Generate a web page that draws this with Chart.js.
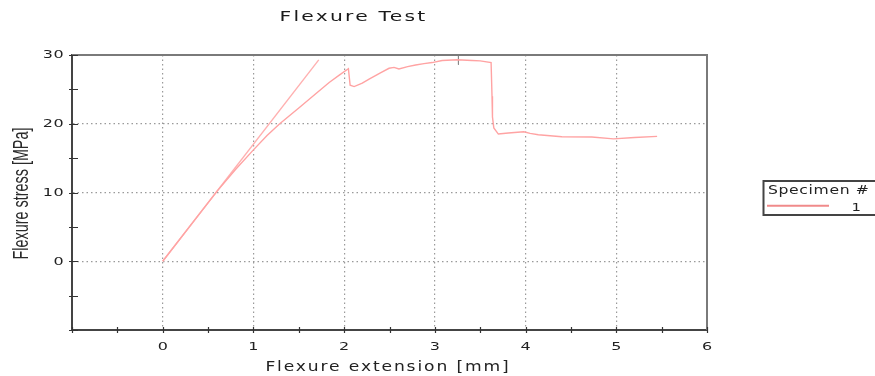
<!DOCTYPE html>
<html>
<head>
<meta charset="utf-8">
<script src="https://cdn.jsdelivr.net/npm/chart.js@4.4.0/dist/chart.umd.min.js"></script>
<style>
  html, body { margin: 0; padding: 0; background: #fff; }
  #wrap { width: 875px; height: 376px; position: relative; }
</style>
</head>
<body>
<div id="wrap"><canvas id="grafico-Flexion"></canvas></div>
<script>
// Datos (extensión en mm, esfuerzo en MPa)
const extension = [0, 0.3, 0.6, 0.8, 1.0, 1.15, 1.29, 1.5, 1.7, 1.835, 1.95, 2.047, 2.066, 2.11, 2.2, 2.275, 2.4, 2.495, 2.55, 2.604, 2.7, 2.788, 2.88, 2.97, 3.08, 3.245, 3.41, 3.5, 3.62, 3.63, 3.635, 3.65, 3.70, 3.81, 3.98, 4.05, 4.14, 4.4, 4.73, 4.97, 5.2, 5.45];
const stress = [0, 5.1, 10.2, 13.3, 16.2, 18.3, 20.0, 22.3, 24.5, 26.0, 27.1, 28.0, 25.6, 25.4, 25.9, 26.5, 27.4, 28.07, 28.2, 27.97, 28.3, 28.55, 28.75, 28.9, 29.2, 29.3, 29.2, 29.15, 28.9, 24.0, 21.0, 19.4, 18.5, 18.65, 18.84, 18.6, 18.4, 18.1, 18.07, 17.8, 18.0, 18.16];

// Recta de la pendiente
const slopeExt = [0, 1.72];
const slopeStress = [0, 29.3];

// Marca gris en el máximo
const markExt = [3.26, 3.26];
const markStress = [30, 28.6];

// Ejes
const xLabelValues = [0, 1, 2, 3, 4, 5, 6];
const yLabelValues = [0, 10, 20, 30];
const xGridValues = [0, 1, 2, 3, 4, 5];
const yGridValues = [0, 10, 20];

const specimens = ["1"];

const toPoints = (xs, ys) => xs.map((x, i) => ({ x: x, y: ys[i] }));
const near = (v, list) => list.some(l => Math.abs(l - v) < 1e-6);

// texto estirado horizontalmente, como en la imagen original
function drawStretched(ctx, text, x, y, o) {
  ctx.save();
  ctx.translate(x, y);
  ctx.scale(o.k, 1);
  if (o.rotate) ctx.rotate(o.rotate);
  ctx.font = o.font;
  ctx.letterSpacing = (o.ls || 0) + "px";
  ctx.fillStyle = o.color || "#222";
  ctx.textAlign = o.align || "center";
  ctx.textBaseline = o.baseline || "alphabetic";
  ctx.fillText(text, 0, 0);
  ctx.restore();
}

const decoraciones = {
  id: "decoraciones",
  afterDraw(chart) {
    const ctx = chart.ctx;
    const area = chart.chartArea;
    const xs = chart.scales.x;
    const ys = chart.scales.y;

    // marco superior y derecho
    ctx.save();
    ctx.strokeStyle = "#7a7a7a";
    ctx.lineWidth = 2;
    ctx.beginPath();
    ctx.moveTo(area.left, area.top);
    ctx.lineTo(area.right, area.top);
    ctx.lineTo(area.right, area.bottom);
    ctx.stroke();

    // marcas de los ejes (cruzan la línea)
    ctx.strokeStyle = "#333";
    ctx.lineWidth = 1.2;
    ctx.beginPath();
    xs.ticks.forEach(t => {
      const px = Math.round(xs.getPixelForValue(t.value)) + 0.5;
      ctx.moveTo(px, area.bottom - 3);
      ctx.lineTo(px, area.bottom + 3);
    });
    ys.ticks.forEach(t => {
      const py = Math.round(ys.getPixelForValue(t.value)) + 0.5;
      ctx.moveTo(area.left - 3, py);
      ctx.lineTo(area.left + 6, py);
    });
    ctx.stroke();
    ctx.restore();

    // etiquetas
    xs.ticks.forEach(t => {
      if (near(t.value, xLabelValues)) {
        drawStretched(ctx, String(t.value), xs.getPixelForValue(t.value), 349.5,
          { font: "11px 'DejaVu Sans'", k: 1.45, color: "#222" });
      }
    });
    ys.ticks.forEach(t => {
      if (near(t.value, yLabelValues)) {
        drawStretched(ctx, String(t.value), 64, ys.getPixelForValue(t.value) + 0.5,
          { font: "11px 'DejaVu Sans'", k: 1.45, color: "#222", align: "right", baseline: "middle", ls: 0.3 });
      }
    });

    // títulos
    drawStretched(ctx, "Flexure Test", 353.5, 20.7,
      { font: "14.5px 'DejaVu Sans'", k: 1.4, ls: 1.6, color: "#1a1a1a" });
    drawStretched(ctx, "Flexure extension [mm]", 388, 371,
      { font: "13.7px 'DejaVu Sans'", k: 1.25, ls: 1.5, color: "#222" });
    drawStretched(ctx, "Flexure stress [MPa]", 22, (area.top + area.bottom) / 2 + 1,
      { font: "14.4px 'Liberation Sans'", k: 1.55, rotate: -Math.PI / 2, color: "#2a2a2a", baseline: "middle" });

    // leyenda
    ctx.save();
    ctx.strokeStyle = "#444";
    ctx.lineWidth = 2;
    ctx.strokeRect(763.5, 181, 130, 34);
    ctx.strokeStyle = "#f08a8a";
    ctx.lineWidth = 2;
    ctx.beginPath();
    ctx.moveTo(767, 205.7);
    ctx.lineTo(829, 205.7);
    ctx.stroke();
    ctx.restore();
    drawStretched(ctx, "Specimen #", 768, 193.5,
      { font: "12px 'DejaVu Sans'", k: 1.3, ls: 0.5, color: "#222", align: "left" });
    drawStretched(ctx, specimens[0], 851.5, 211,
      { font: "11px 'DejaVu Sans'", k: 1.35, color: "#222", align: "left" });
  }
};

document.addEventListener("DOMContentLoaded", () => {
  const lienzo = document.getElementById("grafico-Flexion");
  new Chart(lienzo.getContext("2d"), {
    type: "scatter",
    data: {
      datasets: [
        {
          label: specimens[0],
          data: toPoints(extension, stress),
          showLine: true,
          borderColor: "#ffa3a3",
          borderWidth: 1.4,
          pointRadius: 0,
          tension: 0
        },
        {
          label: "pendiente",
          data: toPoints(slopeExt, slopeStress),
          showLine: true,
          borderColor: "#ffb0b0",
          borderWidth: 1.4,
          pointRadius: 0
        },
        {
          label: "marca",
          data: toPoints(markExt, markStress),
          showLine: true,
          borderColor: "#888",
          borderWidth: 1,
          pointRadius: 0
        }
      ]
    },
    options: {
      responsive: true,
      maintainAspectRatio: false,
      animation: false,
      layout: { padding: { top: 55, right: 168, left: 0, bottom: 0 } },
      plugins: {
        legend: { display: false },
        title: { display: false },
        tooltip: { enabled: false }
      },
      scales: {
        x: {
          type: "linear",
          min: -1,
          max: 6,
          ticks: { stepSize: 0.5, display: false },
          grid: {
            drawTicks: false,
            color: c => (c.tick && near(c.tick.value, xGridValues)) ? "#9a9a9a" : "rgba(0,0,0,0)",
            lineWidth: 1.2
          },
          border: { display: true, color: "#444", width: 2, dash: [1.5, 3] },
          afterFit: s => { s.height = 46; }
        },
        y: {
          type: "linear",
          min: -10,
          max: 30,
          ticks: { stepSize: 5, display: false },
          grid: {
            drawTicks: false,
            color: c => (c.tick && near(c.tick.value, yGridValues)) ? "#9a9a9a" : "rgba(0,0,0,0)",
            lineWidth: 1.2
          },
          border: { display: true, color: "#444", width: 2, dash: [1.5, 3] },
          afterFit: s => { s.width = 72; }
        }
      }
    },
    plugins: [decoraciones]
  });
});
</script>
</body>
</html>
